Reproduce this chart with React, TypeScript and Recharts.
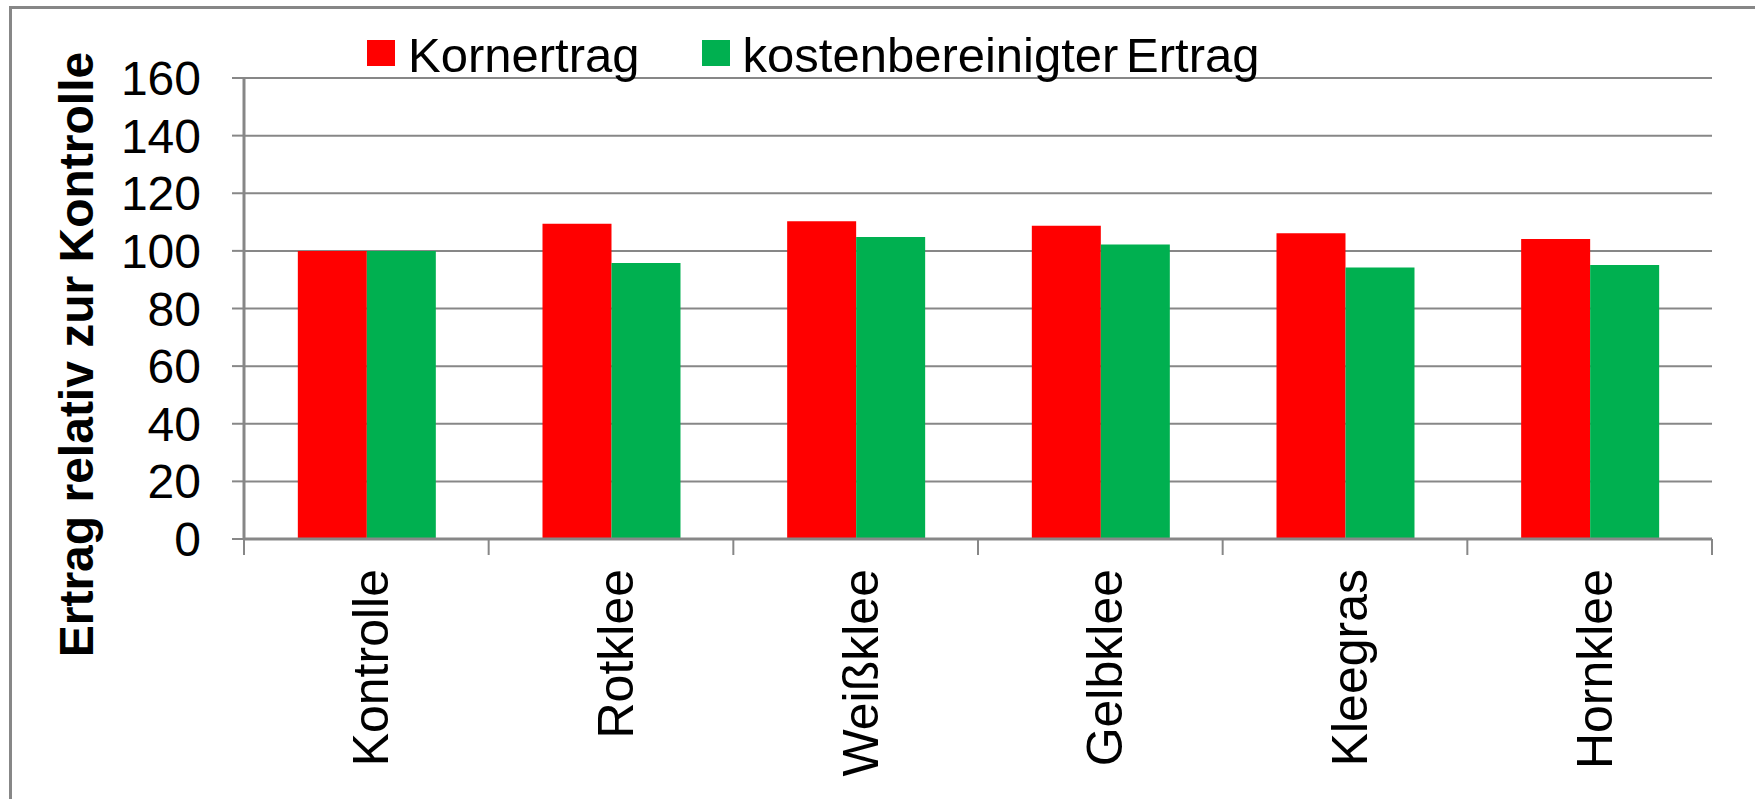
import { BarChart, Bar, XAxis, YAxis, CartesianGrid, Label } from "recharts";

const categories = ["Kontrolle", "Rotklee", "Weißklee", "Gelbklee", "Kleegras", "Hornklee"];
const kornertrag = [100, 109.4, 110.3, 108.7, 106.1, 104.1];
const kostenbereinigt = [100, 95.8, 104.8, 102.2, 94.2, 95.1];
const seriesNames = ["Kornertrag", "kostenbereinigter Ertrag"];
const seriesColors = ["#ff0000", "#00b050"];
const yTicks = [0, 20, 40, 60, 80, 100, 120, 140, 160];
const yTitle = "Ertrag relativ zur Kontrolle";

const FONT = "'Liberation Sans', Arial, sans-serif";
const GRID = "#878787";
const X_TICK = 16;
const X_MARGIN = 14;

const data = categories.map((name, i) => ({
  name,
  korn: kornertrag[i],
  kosten: kostenbereinigt[i],
}));

// label plus Excel-style tick marks on the category boundaries
function CategoryTick({ x, y, payload, index, visibleTicksCount }: any) {
  const half = payload?.offset ?? 0;
  const top = y - X_TICK - X_MARGIN;
  const last = index === visibleTicksCount - 1;
  return (
    <g>
      {half > 0 && (
        <line x1={x - half} x2={x - half} y1={top} y2={top + X_TICK} stroke={GRID} strokeWidth={2} />
      )}
      {half > 0 && last && (
        <line x1={x + half} x2={x + half} y1={top} y2={top + X_TICK} stroke={GRID} strokeWidth={2} />
      )}
      <g transform={`translate(${x},${y})`}>
        <text
          transform="rotate(-90)"
          x={0}
          y={0}
          dy={22}
          textAnchor="end"
          fontSize={50}
          fontFamily={FONT}
          fill="#000"
        >
          {payload.value}
        </text>
      </g>
    </g>
  );
}

function YTitle(props: any) {
  const vb = props.viewBox;
  const cx = vb.x + 93;
  const cy = vb.y + vb.height / 2 + 46;
  return (
    <text
      x={cx}
      y={cy}
      transform={`rotate(-90, ${cx}, ${cy})`}
      textAnchor="middle"
      fontSize={48}
      fontWeight="bold"
      fontFamily={FONT}
      fill="#000"
    >
      {yTitle}
    </text>
  );
}

export default function App() {
  return (
    <div
      style={{
        position: "fixed",
        left: 0,
        top: 0,
        width: 1755,
        height: 799,
        background: "#fff",
        overflow: "hidden",
        fontFamily: FONT,
      }}
    >
      {/* chart frame, right and bottom edges are cut off in the original */}
      <div
        style={{
          position: "absolute",
          left: 9,
          top: 6,
          width: 1800,
          height: 900,
          borderLeft: `3px solid ${GRID}`,
          borderTop: `3px solid ${GRID}`,
        }}
      />

      {/* legend */}
      <div
        style={{
          position: "absolute",
          left: 367,
          top: 31,
          display: "flex",
          alignItems: "flex-start",
          fontSize: 49,
          lineHeight: "49px",
          color: "#000",
          zIndex: 2,
        }}
      >
        {seriesNames.map((n, i) => (
          <div key={n} style={{ display: "flex", alignItems: "flex-start", marginRight: i === 0 ? 62 : 0 }}>
            <div style={{ width: 28, height: 26, marginTop: 9, marginRight: 13, background: seriesColors[i] }} />
            <span style={{ whiteSpace: "nowrap", wordSpacing: -6 }}>{n}</span>
          </div>
        ))}
      </div>

      <div style={{ position: "absolute", left: 0, top: 0 }}>
        <BarChart
          width={1755}
          height={799}
          data={data}
          margin={{ top: 78, right: 43, left: 0, bottom: 0 }}
          barCategoryGap="22%"
          barGap={0}
        >
          <CartesianGrid vertical={false} stroke={GRID} strokeWidth={2} />
          <XAxis
            dataKey="name"
            height={260}
            interval={0}
            axisLine={{ stroke: GRID, strokeWidth: 3 }}
            tickLine={false}
            tickSize={X_TICK}
            tickMargin={X_MARGIN}
            tick={<CategoryTick />}
          />
          <YAxis
            width={244}
            domain={[0, 160]}
            ticks={yTicks}
            interval={0}
            axisLine={{ stroke: GRID, strokeWidth: 3 }}
            tickLine={{ stroke: GRID, strokeWidth: 2 }}
            tickSize={12}
            tickMargin={31}
            tick={{ fontSize: 48, fill: "#000", fontFamily: FONT }}
          >
            <Label content={<YTitle />} />
          </YAxis>
          <Bar dataKey="korn" name={seriesNames[0]} fill={seriesColors[0]} isAnimationActive={false} />
          <Bar dataKey="kosten" name={seriesNames[1]} fill={seriesColors[1]} isAnimationActive={false} />
        </BarChart>
      </div>
    </div>
  );
}
